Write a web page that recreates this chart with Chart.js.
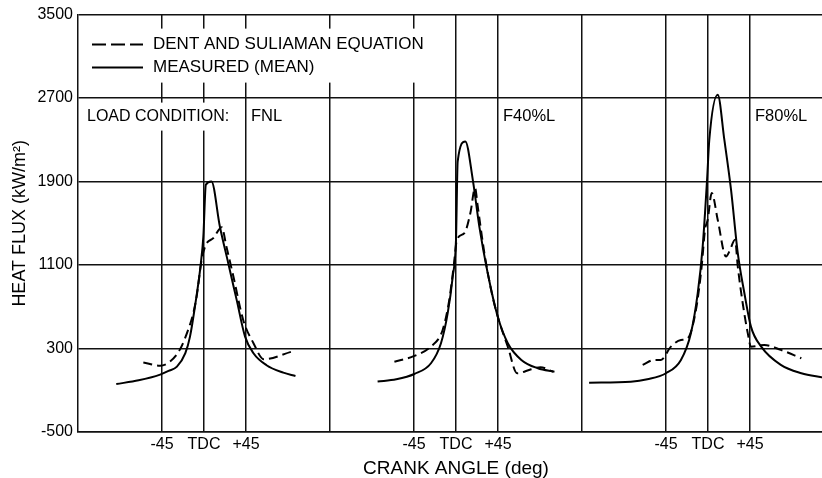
<!DOCTYPE html>
<html>
<head>
<meta charset="utf-8">
<script src="https://cdn.jsdelivr.net/npm/chart.js@4/dist/chart.umd.min.js"></script>
<style>
  html, body { margin: 0; padding: 0; background: #fff; overflow: hidden; }
  #wrap { width: 834px; height: 478px; }
</style>
</head>
<body>
<div id="wrap"><canvas id="c" width="834" height="478"></canvas></div>
<script>
// ---------- data ----------
const panelLabels = ['FNL', 'F40%L', 'F80%L'];
const angleTickValues = [-45, 0, 45];
const angleTickLabels = ['-45', 'TDC', '+45'];
const fluxTicks = [-500, 300, 1100, 1900, 2700, 3500];
const seriesNames = ['DENT AND SULIAMAN EQUATION', 'MEASURED (MEAN)'];

// FNL
const fnlMeasuredAngle = [-94, -70, -47, -38, -29, -20, -15, -9.7, -3.6, -0.7, 2, 8, 17, 26, 35, 44, 53, 67, 85, 98];
const fnlMeasuredFlux  = [-40, -5, 50, 85, 126, 255, 414, 702, 1100, 1373, 1870, 1900, 1469, 1118, 766, 414, 255, 140, 69, 37];
const fnlDentAngle = [-65, -47, -36.5, -26, -17, -11.5, -7.9, -2.5, 2, 10, 19, 24, 31.5, 42, 53, 64, 94];
const fnlDentFlux  = [165, 136, 174, 287, 478, 638, 798, 1150, 1294, 1358, 1463, 1277, 990, 574, 351, 197, 270];

// F40%L
const f40MeasuredAngle = [-84, -64, -44.7, -26.8, -16.1, -8.9, -3.5, 0, 1.8, 10, 18, 25, 34, 44.7, 55.5, 70, 87.7, 105.5];
const f40MeasuredFlux  = [-17, 5, 56, 159, 351, 639, 990, 1342, 2093, 2285, 1917, 1469, 1022, 606, 351, 191, 111, 78];
const f40DentAngle = [-66, -44.7, -27, -14.3, -7.2, -2.5, 1, 9, 15.4, 20.4, 23.3, 30.4, 37.6, 44.7, 55.5, 65.5, 80.5, 90.5, 104];
const f40DentFlux  = [174, 229, 318, 478, 766, 1086, 1342, 1406, 1598, 1838, 1661, 1214, 862, 606, 318, 63, 101, 121, 78];

// F80%L
const f80MeasuredAngle = [-127.4, -82.7, -65, -45, -29, -18.3, -11, -5.7, -1, 1.4, 10.4, 17.5, 24.7, 31.9, 39, 46, 57, 78, 100, 123.5];
const f80MeasuredFlux  = [-27, -18, 5, 63, 191, 447, 830, 1277, 1917, 2301, 2733, 2301, 1821, 1214, 830, 510, 318, 143, 63, 21];
const f80DentAngle = [-70, -57.6, -50.5, -39.7, -29, -21.8, -12.9, -6.8, -3.2, -0.3, 4, 10.4, 19.3, 22.9, 29, 31.9, 37.2, 42.6, 46, 60.4, 78, 100];
const f80DentFlux  = [143, 191, 191, 318, 382, 398, 670, 1086, 1438, 1534, 1790, 1534, 1182, 1229, 1342, 1086, 734, 447, 318, 334, 287, 207];

// ---------- layout helpers ----------
const PANEL_SPAN = 270;             // degrees of axis space given to each load condition
const HALF = PANEL_SPAN / 2;
const FONT = "'Liberation Sans', Arial, Helvetica, sans-serif";
const INK = '#111';

const panelsData = [
  { mA: fnlMeasuredAngle, mF: fnlMeasuredFlux, dA: fnlDentAngle, dF: fnlDentFlux },
  { mA: f40MeasuredAngle, mF: f40MeasuredFlux, dA: f40DentAngle, dF: f40DentFlux },
  { mA: f80MeasuredAngle, mF: f80MeasuredFlux, dA: f80DentAngle, dF: f80DentFlux }
];

const toPts = (angles, flux, off) => angles.map((a, i) => ({ x: a + off, y: flux[i] }));

const datasets = [];
panelsData.forEach((p, i) => {
  const off = i * PANEL_SPAN;
  datasets.push({
    label: seriesNames[1] + ' ' + panelLabels[i],
    data: toPts(p.mA, p.mF, off),
    borderColor: '#000', borderWidth: 2, pointRadius: 0,
    cubicInterpolationMode: 'monotone', fill: false
  });
  datasets.push({
    label: seriesNames[0] + ' ' + panelLabels[i],
    data: toPts(p.dA, p.dF, off),
    borderColor: '#000', borderWidth: 2, borderDash: [9, 5], pointRadius: 0,
    cubicInterpolationMode: 'monotone', fill: false
  });
});

// tick positions: -45 / TDC / +45 in each panel plus panel separators
const xTickVals = [];
const xTickText = {};
panelLabels.forEach((_, i) => {
  const off = i * PANEL_SPAN;
  angleTickValues.forEach((v, k) => { xTickVals.push(v + off); xTickText[v + off] = angleTickLabels[k]; });
  if (i > 0) { xTickVals.push(off - HALF); xTickText[off - HALF] = ''; }
});
xTickVals.sort((a, b) => a - b);

const annotations = {
  id: 'annotations',
  afterDraw(chart) {
    const ctx = chart.ctx;
    const ca = chart.chartArea;
    const xs = chart.scales.x;
    ctx.save();
    // legend
    const lx = ca.left + 14, ly1 = ca.top + 30, ly2 = ca.top + 53;
    ctx.fillStyle = '#fff';
    ctx.fillRect(ca.left + 7, ca.top + 14, 345, 54);
    ctx.strokeStyle = '#000';
    ctx.lineWidth = 2;
    ctx.setLineDash([14, 5]);
    ctx.beginPath(); ctx.moveTo(lx, ly1); ctx.lineTo(lx + 51, ly1); ctx.stroke();
    ctx.setLineDash([]);
    ctx.beginPath(); ctx.moveTo(lx, ly2); ctx.lineTo(lx + 51, ly2); ctx.stroke();
    ctx.fillStyle = '#000';
    ctx.textBaseline = 'middle';
    ctx.textAlign = 'left';
    ctx.font = '17px ' + FONT;
    ctx.fillText(seriesNames[0], lx + 61, ly1);
    ctx.fillText(seriesNames[1], lx + 61, ly2);
    // load condition labels
    const ty = ca.top + 102;
    ctx.font = '16px ' + FONT;
    const lc = 'LOAD CONDITION:';
    const w = ctx.measureText(lc).width;
    ctx.fillStyle = '#fff';
    ctx.fillRect(ca.left + 6, ty - 14, w + 6, 28);
    ctx.fillStyle = '#000';
    ctx.fillText(lc, ca.left + 9, ty);
    ctx.font = '16.5px ' + FONT;
    panelLabels.forEach((lab, i) => {
      const px = xs.getPixelForValue(45 + i * PANEL_SPAN) + 5;
      ctx.fillText(lab, px, ty);
    });
    ctx.restore();
  }
};

new Chart(document.getElementById('c'), {
  type: 'line',
  data: { datasets },
  options: {
    responsive: false,
    devicePixelRatio: 1,
    animation: false,
    layout: { padding: { top: 14, right: 0, left: 0, bottom: 0 } },
    plugins: { legend: { display: false }, tooltip: { enabled: false } },
    scales: {
      x: {
        type: 'linear',
        min: -HALF,
        max: PANEL_SPAN * panelLabels.length - HALF,
        afterBuildTicks: (s) => { s.ticks = xTickVals.map(v => ({ value: v })); },
        afterFit: (s) => { s.height = 46; },
        ticks: {
          autoSkip: false, maxRotation: 0, padding: 3, color: '#000',
          font: { family: FONT, size: 16 },
          callback: (v) => xTickText[v] !== undefined ? xTickText[v] : ''
        },
        grid: { color: INK, lineWidth: 1.5, drawTicks: false },
        border: { color: INK, width: 1.5 },
        title: {
          display: true, text: 'CRANK ANGLE (deg)', color: '#000',
          font: { family: FONT, size: 19, lineHeight: 1 }, padding: { top: 0, bottom: 0 }
        }
      },
      y: {
        min: -500, max: 3500,
        afterBuildTicks: (s) => { s.ticks = fluxTicks.map(v => ({ value: v })); },
        afterFit: (s) => { s.width = 78; },
        ticks: {
          padding: 5, color: '#000', font: { family: FONT, size: 16 },
          callback: (v) => String(v)
        },
        grid: { color: INK, lineWidth: 1.5, drawTicks: false },
        border: { color: INK, width: 1.5 },
        title: {
          display: true, text: 'HEAT FLUX (kW/m²)', color: '#000',
          font: { family: FONT, size: 18, lineHeight: 1 }, padding: { top: 11, bottom: 0 }
        }
      }
    }
  },
  plugins: [annotations]
});
</script>
</body>
</html>
